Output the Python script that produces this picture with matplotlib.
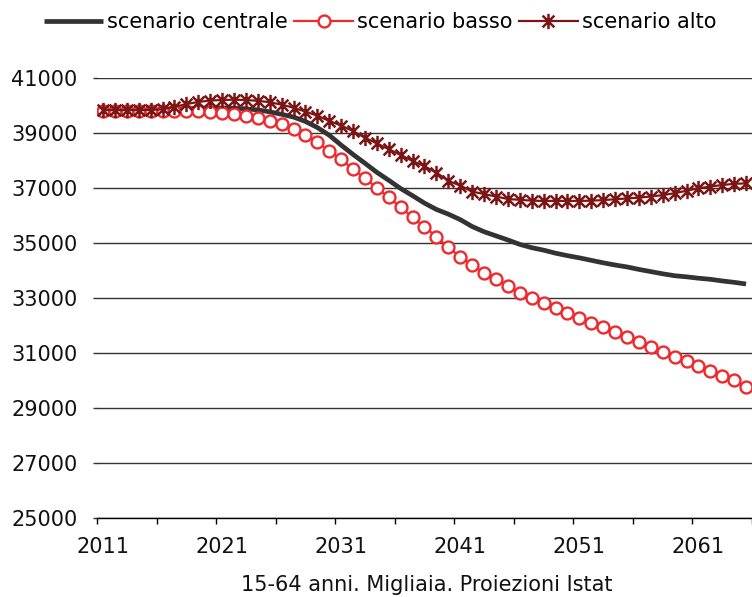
import numpy as np
import matplotlib
matplotlib.use('Agg')
import matplotlib.pyplot as plt
from matplotlib.path import Path

years = list(range(2011, 2066))

centrale = [39800, 39800, 39800, 39810, 39820, 39840, 39860, 39880, 39900, 39910,
            39910, 39900, 39880, 39840, 39770, 39680, 39580, 39420, 39200, 38920,
            38560, 38220, 37900, 37570, 37280, 36980, 36720, 36450, 36220, 36050,
            35850, 35600, 35410, 35260, 35110, 34950, 34830, 34740, 34630, 34540,
            34460, 34370, 34280, 34200, 34130, 34040, 33960, 33880, 33810, 33770,
            33720, 33680, 33620, 33570, 33510]

basso = [39810, 39810, 39800, 39800, 39800, 39800, 39800, 39800, 39790, 39780,
         39740, 39690, 39630, 39560, 39450, 39315, 39135, 38930, 38660, 38360,
         38040, 37690, 37350, 37010, 36660, 36300, 35930, 35590, 35230, 34840,
         34500, 34200, 33920, 33680, 33440, 33190, 32990, 32810, 32620, 32440,
         32260, 32080, 31930, 31750, 31590, 31410, 31230, 31050, 30870, 30710,
         30540, 30360, 30180, 30020, 29780]

alto = [39830, 39830, 39830, 39830, 39840, 39860, 39950, 40050, 40130, 40180,
        40200, 40210, 40200, 40170, 40120, 40030, 39920, 39780, 39630, 39440,
        39270, 39070, 38830, 38620, 38410, 38200, 37980, 37790, 37560, 37260,
        37090, 36870, 36780, 36690, 36600, 36570, 36540, 36530, 36530, 36530,
        36530, 36540, 36560, 36590, 36620, 36650, 36690, 36740, 36810, 36900,
        36990, 37050, 37110, 37150, 37170]

labels = ['scenario centrale', 'scenario basso', 'scenario alto']
note = '15-64 anni. Migliaia. Proiezioni Istat'

plt.rcParams['font.family'] = ['DejaVu Sans']

x = np.arange(len(years))

# excel-like star: an x with a vertical bar
star = Path([(-1, -1), (1, 1), (-1, 1), (1, -1), (0, -1.3), (0, 1.3)],
            [Path.MOVETO, Path.LINETO] * 3)

fig = plt.figure(figsize=(7.52, 5.97), dpi=100)
ax = fig.add_axes([97 / 752, 79 / 597, 655 / 752, 440 / 597])

ax.plot(x, centrale, color='#333333', lw=3.4, label=labels[0], zorder=3,
        solid_capstyle='butt')
ax.plot(x, basso, color='#ee2a2e', lw=1.6, marker='o', ms=8.6, mew=1.7,
        mfc='white', mec='#ee2a2e', label=labels[1], zorder=4)
ax.plot(x, alto, color='#7a1616', lw=1.6, marker=star, ms=11, mew=1.8,
        mec='#7a1616', label=labels[2], zorder=5)

ax.set_ylim(25000, 41000)
ax.set_yticks(range(25000, 41001, 2000))
ax.set_xlim(-0.5, len(years) - 0.5 - 5 / 12)

# tick marks on category boundaries every 5 years, labels every 10 years
ax.set_xticks(np.arange(-0.5, len(years), 5))
ax.set_xticklabels([])
ax.set_xticks(x[::10], minor=True)
ax.set_xticklabels([str(y) for y in years[::10]], minor=True)
ax.tick_params(axis='x', which='major', length=4.5, width=1, color='black',
               direction='out')
ax.tick_params(axis='x', which='minor', length=0, pad=14, labelsize=15,
               labelcolor='#111111')
ax.tick_params(axis='y', length=3, width=1, color='#333333', pad=11,
               labelsize=15, labelcolor='#111111')

ax.grid(axis='y', color='#333333', lw=1)
ax.set_axisbelow(True)
for s in ['left', 'top', 'right']:
    ax.spines[s].set_visible(False)
ax.spines['bottom'].set_color('black')
ax.spines['bottom'].set_linewidth(1)

fig.legend(loc='center', bbox_to_anchor=(380 / 752, 1 - 22 / 597), ncol=3,
           frameon=False, fontsize=15, handlelength=2.85, handletextpad=0.18,
           columnspacing=0.3, borderpad=0)

fig.text(427 / 752, 1 - 585 / 597, note, ha='center', va='center',
         fontsize=15, color='#111111')

fig.savefig('out.png', dpi=100)
